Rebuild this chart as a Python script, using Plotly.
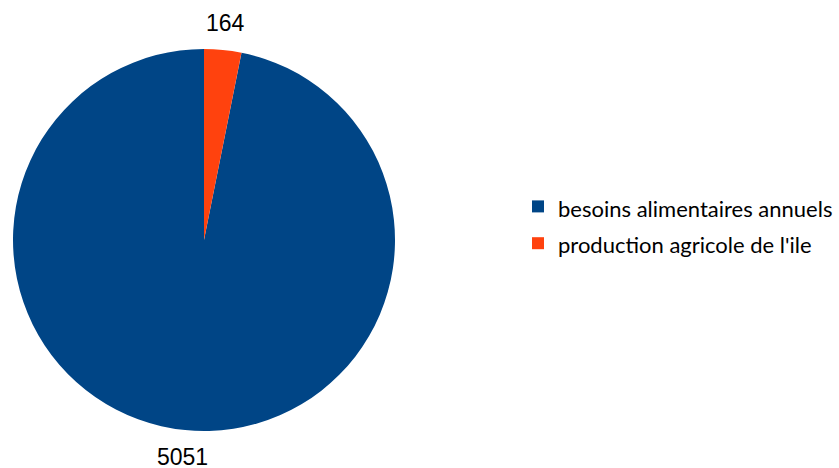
import math
import plotly.graph_objects as go

# Annual food needs vs. island agricultural production
categories = ["besoins alimentaires annuels", "production agricole de l'ile"]
values = [5051, 164]
colors = ["#004586", "#ff420e"]

W, H = 839, 468
cx, cy, r = 204, 240, 191  # pie centre and radius in pixels
label_r = r + 27

total = sum(values)
small_span = 360.0 * values[1] / total

fig = go.Figure(
    go.Pie(
        labels=[f'<span style="font-size:22px">{c}</span>' for c in categories],
        values=values,
        marker=dict(colors=colors, line=dict(width=0)),
        sort=False,
        direction="counterclockwise",
        rotation=small_span,
        textinfo="none",
        hoverinfo="label+value",
        domain=dict(
            x=[(cx - r) / W, (cx + r) / W],
            y=[(H - cy - r) / H, (H - cy + r) / H],
        ),
    )
)

# Value labels placed outside each slice along its mid-angle
# (angles measured clockwise from 12 o'clock)
mids = [small_span + (360.0 - small_span) / 2, small_span / 2]
for v, m in zip(values, mids):
    a = math.radians(m)
    x = cx + label_r * math.sin(a)
    y = cy - label_r * math.cos(a)
    fig.add_annotation(
        x=x / W, y=1 - y / H, xref="paper", yref="paper",
        text=str(v), showarrow=False,
        font=dict(family="Liberation Sans, Arial", size=23, color="#000000"),
        xanchor="center", yanchor="middle",
    )

fig.update_layout(
    width=W, height=H,
    margin=dict(l=0, r=0, t=0, b=0),
    paper_bgcolor="white",
    plot_bgcolor="white",
    showlegend=True,
    legend=dict(
        x=(558 - 40) / W, xanchor="left",
        y=1 - 225 / H, yanchor="middle",
        font=dict(family="Lato, Carlito, sans-serif", size=26, color="#000000"),
        bgcolor="rgba(0,0,0,0)",
        traceorder="normal",
    ),
)

fig.write_html("out.html")
